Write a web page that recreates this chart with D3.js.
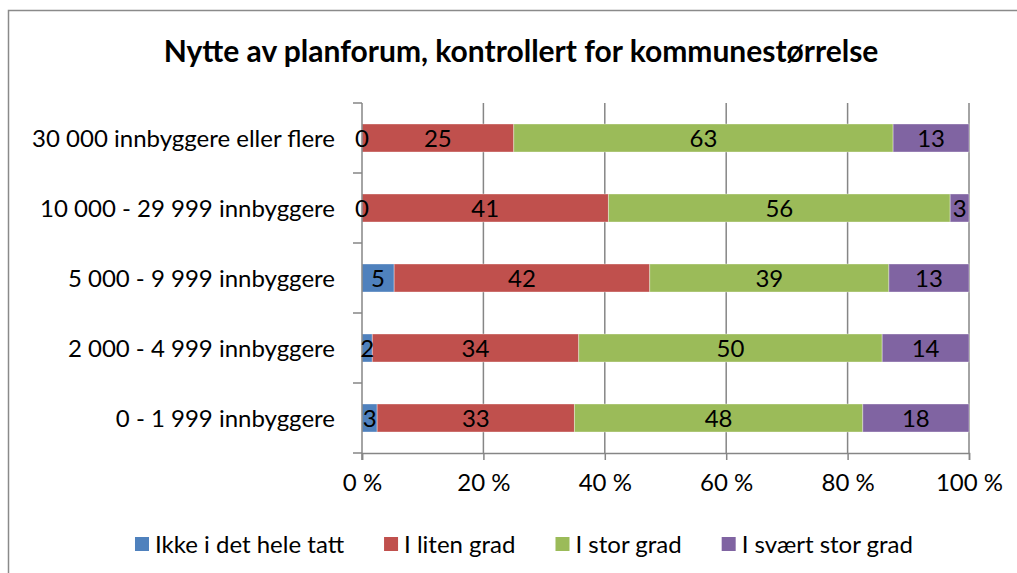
<!DOCTYPE html>
<html>
<head>
<meta charset="utf-8">
<script src="https://cdn.jsdelivr.net/npm/d3@7"></script>
<style>
  body { margin: 0; background: #fff; }
  svg text { font-family: Lato, "Open Sans", sans-serif; fill: #000; }
</style>
</head>
<body>
<div id="Chart"></div>
<script>
const categories = [
  "30 000 innbyggere eller flere",
  "10 000 - 29 999 innbyggere",
  "5 000 - 9 999 innbyggere",
  "2 000 - 4 999 innbyggere",
  "0 - 1 999 innbyggere"
];
const seriesNames = ["Ikke i det hele tatt", "I liten grad", "I stor grad", "I svært stor grad"];
const ikke   = [0,    0,    5.3,  1.7,  2.5];
const liten  = [25,   40.6, 42.1, 34.0, 32.5];
const stor   = [62.5, 56.3, 39.4, 50.0, 47.5];
const svaert = [12.5, 3.1,  13.2, 14.3, 17.5];
const tickValues = [0, 20, 40, 60, 80, 100];
const colors = ["#4F81BD", "#C0504D", "#9BBB59", "#8064A2"];

const dim = {width: 1017, height: 573, left: 362, right: 969, top: 103, bottom: 453, fs: 24};

const rows = categories.map((c, i) => ({
  cat: c,
  [seriesNames[0]]: ikke[i],
  [seriesNames[1]]: liten[i],
  [seriesNames[2]]: stor[i],
  [seriesNames[3]]: svaert[i]
}));

const svg = d3.select("#Chart").append("svg")
  .attr("width", dim.width)
  .attr("height", dim.height);

// chart border (runs off the right and bottom edge)
svg.append("rect")
  .attr("x", 8.5).attr("y", 10.5)
  .attr("width", 1100).attr("height", 700)
  .attr("fill", "none").attr("stroke", "#8a8a8a").attr("stroke-width", 1.5);

svg.append("text")
  .attr("x", 521).attr("y", 62)
  .attr("text-anchor", "middle")
  .attr("font-weight", "bold")
  .attr("font-size", 30)
  .text("Nytte av planforum, kontrollert for kommunestørrelse");

const x = d3.scaleLinear([0, 100], [dim.left, dim.right]);
const y = d3.scaleBand(categories, [dim.top, dim.bottom]).paddingInner(0.6).paddingOuter(0.3);
const color = d3.scaleOrdinal(seriesNames, colors);

// vertical gridlines
svg.append("g").attr("class", "grid")
  .selectAll("line")
  .data(tickValues.slice(1))
  .join("line")
    .attr("x1", d => x(d)).attr("x2", d => x(d))
    .attr("y1", dim.top).attr("y2", dim.bottom)
    .attr("stroke", "#868686").attr("stroke-width", 1.5);

const stack = d3.stack().keys(seriesNames)(rows);

svg.append("g").attr("class", "bars")
  .selectAll("g")
  .data(stack)
  .join("g")
    .attr("fill", d => color(d.key))
  .selectAll("rect")
  .data(d => d)
  .join("rect")
    .attr("x", d => x(d[0]))
    .attr("y", d => y(d.data.cat))
    .attr("width", d => x(d[1]) - x(d[0]))
    .attr("height", y.bandwidth())
    .attr("stroke", "#fff").attr("stroke-opacity", 0.35).attr("stroke-width", 1);

// left axis: line + category ticks between bands
const leftAxis = svg.append("g").attr("class", "axis left");
leftAxis.append("line")
  .attr("x1", dim.left).attr("x2", dim.left)
  .attr("y1", dim.top).attr("y2", dim.bottom + 7)
  .attr("stroke", "#868686").attr("stroke-width", 1.5);
leftAxis.selectAll("line.tick")
  .data(d3.range(categories.length + 1))
  .join("line")
    .attr("class", "tick")
    .attr("x1", dim.left - 9).attr("x2", dim.left)
    .attr("y1", i => dim.top + i * y.step()).attr("y2", i => dim.top + i * y.step())
    .attr("stroke", "#868686").attr("stroke-width", 1.5);
leftAxis.selectAll("text")
  .data(categories)
  .join("text")
    .attr("x", dim.left - 27)
    .attr("y", d => y(d) + y.bandwidth() / 2)
    .attr("dy", "0.36em")
    .attr("text-anchor", "end")
    .attr("font-size", dim.fs)
    .text(d => d);

// data labels on top of bars and axis
svg.append("g").attr("class", "labels")
  .selectAll("g")
  .data(stack)
  .join("g")
  .selectAll("text")
  .data(d => d)
  .join("text")
    .attr("x", d => (x(d[0]) + x(d[1])) / 2)
    .attr("y", d => y(d.data.cat) + y.bandwidth() / 2)
    .attr("dy", "0.36em")
    .attr("text-anchor", "middle")
    .attr("font-size", dim.fs)
    .text(d => Math.round(d[1] - d[0]));

// bottom axis
const bottomAxis = svg.append("g").attr("class", "axis bottom")
  .attr("transform", `translate(0 ${dim.bottom})`)
  .call(d3.axisBottom(x).tickValues(tickValues).tickSize(7).tickPadding(14)
    .tickFormat(d => d + " %"));
bottomAxis.select(".domain").attr("stroke", "#868686").attr("stroke-width", 1.5);
bottomAxis.selectAll(".tick line").attr("stroke", "#868686").attr("stroke-width", 1.5);
bottomAxis.selectAll(".tick text")
  .attr("font-size", dim.fs)
  .attr("font-family", null);

// legend
const legend = svg.append("g").attr("class", "legend");
const items = legend.selectAll("g")
  .data(seriesNames)
  .join("g");
items.append("rect")
  .attr("y", 537).attr("width", 14).attr("height", 14)
  .attr("fill", d => color(d));
items.append("text")
  .attr("x", 20).attr("y", 544)
  .attr("dy", "0.36em")
  .attr("font-size", dim.fs)
  .text(d => d);
const widths = items.nodes().map(n => 20 + n.querySelector("text").getComputedTextLength());
const gap = 40;
const total = d3.sum(widths) + gap * (widths.length - 1);
let cursor = 524 - total / 2;
items.each(function (d, i) {
  d3.select(this).attr("transform", `translate(${cursor} 0)`);
  cursor += widths[i] + gap;
});
</script>
</body>
</html>
